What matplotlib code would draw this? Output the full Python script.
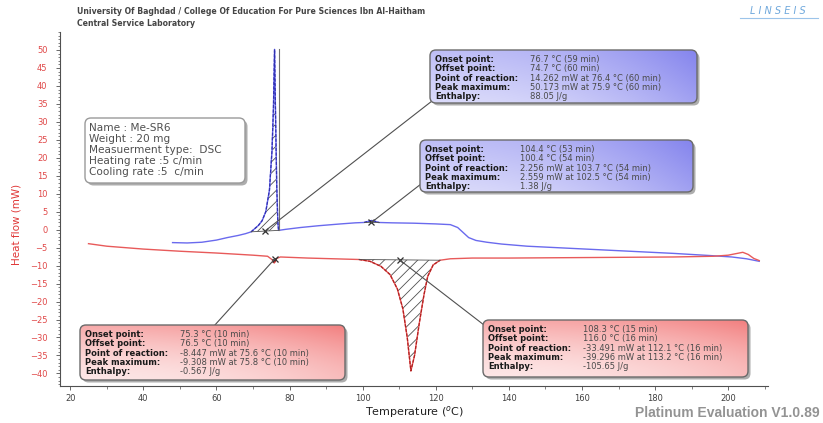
import numpy as np
import matplotlib
matplotlib.use("Agg")
import matplotlib.pyplot as plt
from matplotlib.patches import FancyBboxPatch
from matplotlib.ticker import MultipleLocator

plt.rcParams["hatch.linewidth"] = 0.6

# ---- DSC heating run (blue) ----
heat_T = [48, 52, 56, 60, 63, 66, 68, 69.5, 70.5, 71.5, 72.5, 73.5, 74.5, 75.2,
          75.6, 75.9, 76.2, 76.5, 76.8, 77.0, 79, 83, 88, 94, 98, 100.4, 101.5,
          102.5, 103.5, 104.4, 108, 114, 120, 124, 126, 127.5, 129, 131, 134,
          138, 145, 155, 165, 175, 185, 195, 201, 205, 208.5]
heat_mW = [-3.6, -3.7, -3.5, -2.9, -2.2, -1.6, -1.1, -0.6, 0.3, 1.2, 2.5, 5.0,
           11.0, 22.0, 34.0, 50.173, 30.0, 12.0, 2.0, -0.2, 0.1, 0.6, 1.1, 1.6,
           1.9, 2.0, 2.3, 2.559, 2.3, 2.0, 1.9, 1.8, 1.6, 1.4, 0.6, -0.8, -2.2,
           -3.0, -3.5, -4.0, -4.6, -5.1, -5.6, -6.1, -6.6, -7.2, -7.6, -8.1, -8.8]

# ---- DSC cooling run (red) ----
cool_T = [25, 30, 40, 50, 60, 70, 74, 75.3, 75.8, 76.5, 77.5, 85, 92, 99, 102,
          105, 107.5, 109.5, 111, 112.2, 113.2, 114.2, 115.5, 116.8, 117.8,
          119.3, 121.2, 124, 130, 140, 155, 170, 185, 196, 200, 202.5, 204,
          205.5, 207, 208.5]
cool_mW = [-3.9, -4.6, -5.4, -6.0, -6.5, -7.1, -7.4, -8.4, -9.308, -8.0, -7.6,
           -7.9, -8.1, -8.3, -8.8, -10.2, -12.5, -16.5, -22.0, -30.0, -39.296,
           -35.0, -26.0, -18.0, -13.0, -9.8, -8.5, -8.1, -7.9, -7.9, -7.8, -7.7,
           -7.6, -7.4, -7.1, -6.6, -6.3, -6.9, -8.0, -8.6]

# integration windows (start, end) in degC
heat_peak_win = (69.5, 77.0)
heat_small_win = (100.4, 104.4)
cool_small_win = (75.3, 76.5)
cool_peak_win = (99.0, 121.2)

x_ticks = [20, 40, 60, 80, 100, 120, 140, 160, 180, 200]
y_ticks = list(range(-40, 55, 5))

info_lines = ["Name : Me-SR6", "Weight : 20 mg", "Measuerment type:  DSC",
              "Heating rate :5 c/min", "Cooling rate :5  c/min"]
box_labels = ["Onset point:", "Offset point:", "Point of reaction:",
              "Peak maximum:", "Enthalpy:"]
heat_peak_vals = ["76.7 °C (59 min)", "74.7 °C (60 min)",
                  "14.262 mW at 76.4 °C (60 min)",
                  "50.173 mW at 75.9 °C (60 min)", "88.05 J/g"]
heat_small_vals = ["104.4 °C (53 min)", "100.4 °C (54 min)",
                   "2.256 mW at 103.7 °C (54 min)",
                   "2.559 mW at 102.5 °C (54 min)", "1.38 J/g"]
cool_small_vals = ["75.3 °C (10 min)", "76.5 °C (10 min)",
                   "-8.447 mW at 75.6 °C (10 min)",
                   "-9.308 mW at 75.8 °C (10 min)", "-0.567 J/g"]
cool_peak_vals = ["108.3 °C (15 min)", "116.0 °C (16 min)",
                  "-33.491 mW at 112.1 °C (16 min)",
                  "-39.296 mW at 113.2 °C (16 min)", "-105.65 J/g"]

W, H = 823, 423
fig = plt.figure(figsize=(W / 100, H / 100), dpi=100)
fig.patch.set_facecolor("white")
ax = fig.add_axes([60 / W, 1 - 386 / H, (768 - 60) / W, (386 - 32) / H])
ax.set_xlim(17.2, 210.9)
ax.set_ylim(-43.5, 55)

BLUE = "#6a6aee"
RED = "#e85a5a"
ax.plot(heat_T, heat_mW, color=BLUE, lw=1.0, zorder=3)
ax.plot(cool_T, cool_mW, color=RED, lw=1.0, zorder=3)


def hatch_event(T, y, win, dark):
    T = np.asarray(T, float)
    y = np.asarray(y, float)
    t0, t1 = win
    m = (T > t0) & (T < t1)
    b0, b1 = np.interp(t0, T, y), np.interp(t1, T, y)
    tt = np.r_[t0, T[m], t1]
    yy = np.r_[b0, y[m], b1]
    base = b0 + (tt - t0) * (b1 - b0) / (t1 - t0)
    ax.fill_between(tt, yy, base, facecolor="none", edgecolor="#505050",
                    hatch="///", lw=0, zorder=2)
    ax.plot(tt, yy, color=dark, lw=0.9, ls=(0, (2.5, 1.2)), zorder=4)
    ax.plot([t0, t1], [b0, b1], color="#505050", lw=0.6, zorder=4)
    return 0.5 * (t0 + t1), 0.5 * (b0 + b1), b1


hp = hatch_event(heat_T, heat_mW, heat_peak_win, "#3030b0")
hs = hatch_event(heat_T, heat_mW, heat_small_win, "#3030b0")
cs = hatch_event(cool_T, cool_mW, cool_small_win, "#b02020")
cp = hatch_event(cool_T, cool_mW, cool_peak_win, "#b02020")

# vertical line marking the heating peak maximum
ax.plot([heat_peak_win[1], heat_peak_win[1]], [hp[2], max(heat_mW)],
        color="#707070", lw=0.8, zorder=4)

for ev in (hp, hs, cs, cp):
    ax.plot(ev[0], ev[1], marker="x", ms=4, mew=0.9, color="#303030", zorder=5)

# axes styling
for s in ("top", "right"):
    ax.spines[s].set_visible(False)
for s in ("left", "bottom"):
    ax.spines[s].set_color("#505050")
    ax.spines[s].set_linewidth(0.8)
ax.set_xticks(x_ticks)
ax.set_yticks(y_ticks)
ax.xaxis.set_minor_locator(MultipleLocator(10))
ax.yaxis.set_minor_locator(MultipleLocator(1))
ax.tick_params(axis="both", which="major", length=3, width=0.6,
               color="#505050", labelsize=6)
ax.tick_params(axis="both", which="minor", length=1.8, width=0.5,
               color="#505050")
ax.tick_params(axis="y", labelcolor="#e04848", pad=6)
ax.tick_params(axis="x", labelcolor="#404040", pad=3)
ax.set_xlabel("Temperature ($^{o}$C)", fontsize=8, color="#202020")
ax.xaxis.set_label_coords(0.5, -0.05)
ax.set_ylabel("Heat flow (mW)", fontsize=7.5, color="#e03838")
ax.yaxis.set_label_coords(-0.055, 0.455)

# ---- overlay in pixel coordinates for annotations ----
ov = fig.add_axes([0, 0, 1, 1], zorder=10)
ov.set_xlim(0, W)
ov.set_ylim(H, 0)
ov.axis("off")
ov.patch.set_alpha(0)


def to_px(t, v):
    dx, dy = ax.transData.transform((t, v))
    return dx, H - dy


def grad_box(x, y, w, h, kind, edge="#6a6a6a"):
    ny, nx = 40, 120
    gy, gx = np.mgrid[0:1:ny * 1j, 0:1:nx * 1j]
    if kind == "blue":
        v = 0.25 + 0.5 * gx ** 2 + 0.25 * (1 - gy)
        light, dark = np.array([0.97, 0.97, 1.0]), np.array([0.52, 0.52, 0.93])
    elif kind == "red":
        v = 0.15 + 0.5 * (1 - gy) ** 1.5 + 0.35 * gx ** 2
        light, dark = np.array([1.0, 0.97, 0.97]), np.array([0.95, 0.5, 0.5])
    else:
        v = np.zeros_like(gx)
        light, dark = np.array([1.0, 1.0, 1.0]), np.array([1.0, 1.0, 1.0])
    v = np.clip(v, 0, 1)
    img = (1 - v)[..., None] * light + v[..., None] * dark
    shadow = FancyBboxPatch((x + 2.5, y + 2.5), w, h,
                            boxstyle="round,pad=0,rounding_size=6",
                            fc="#8a8a8a", ec="none", alpha=0.7, zorder=1)
    ov.add_patch(shadow)
    frame = FancyBboxPatch((x, y), w, h, boxstyle="round,pad=0,rounding_size=6",
                           fc="none", ec=edge, lw=1.0, zorder=3)
    ov.add_patch(frame)
    im = ov.imshow(img, extent=(x, x + w, y + h, y), origin="upper",
                   aspect="auto", zorder=2, interpolation="bilinear")
    im.set_clip_path(frame)


def result_box(x, y, w, h, kind, vals, anchor, target):
    grad_box(x, y, w, h, kind)
    tx, ty = to_px(*target)
    ov.plot([anchor[0], tx], [anchor[1], ty], color="#505050", lw=0.8, zorder=0.5)
    for i, (lab, val) in enumerate(zip(box_labels, vals)):
        yy = y + 9.5 + i * 9.3
        ov.text(x + 5, yy, lab, fontsize=6, fontweight="bold", color="#1a1a1a",
                va="center", ha="left", zorder=4)
        ov.text(x + 100, yy, val, fontsize=6, color="#4a4a4a",
                va="center", ha="left", zorder=4)


result_box(430, 50, 267, 53, "blue", heat_peak_vals, (432, 101), hp[:2])
result_box(420, 140, 273, 52, "blue", heat_small_vals, (421, 184), hs[:2])
result_box(80, 325, 265, 55, "red", cool_small_vals, (214, 326), cs[:2])
result_box(483, 320, 265, 57, "red", cool_peak_vals, (484, 325), cp[:2])

# sample information box
grad_box(85, 118, 160, 65, "white", edge="#9a9a9a")
for i, line in enumerate(info_lines):
    ov.text(89, 128 + i * 11, line, fontsize=7.6, color="#505050",
            va="center", ha="left", zorder=4)

# header, logo and footer
ov.text(77, 12, "University Of Baghdad / College Of Education For Pure Sciences Ibn Al-Haitham",
        fontsize=5.6, fontweight="bold", color="#454545", va="center", ha="left")
ov.text(77, 24, "Central Service Laboratory", fontsize=5.6, fontweight="bold",
        color="#454545", va="center", ha="left")
ov.text(778, 11, "L I N S E I S", fontsize=7, style="italic", color="#6fa8dc",
        va="center", ha="center")
ov.plot([740, 818], [18, 18], color="#9cc4ea", lw=0.8)
ov.text(820, 413, "Platinum Evaluation V1.0.89", fontsize=10, fontweight="bold",
        family="Liberation Sans", color="#939393", va="center", ha="right")

ov.set_xlim(0, W)
ov.set_ylim(H, 0)

fig.savefig("out.png", dpi=100)
